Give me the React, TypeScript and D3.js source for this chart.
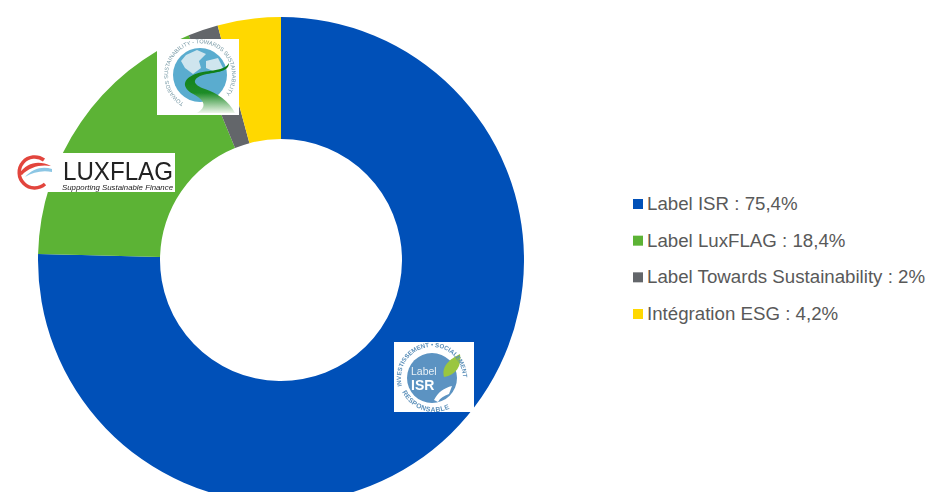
import React from "react";
import * as d3 from "d3";

const labels = ["Label ISR", "Label LuxFLAG", "Label Towards Sustainability", "Intégration ESG"];
const shares = [75.4, 18.4, 2, 4.2];
const shareLabels = ["75,4%", "18,4%", "2%", "4,2%"];
const colors = ["#0050b8", "#5cb335", "#63666a", "#ffd800"];

const W = 939;
const H = 492;
const cx = 281;
const cy = 260;
const outer = 243;
const inner = 121;

const pie = d3.pie<number>().sort(null).value((d) => d);
const arc = d3.arc<d3.PieArcDatum<number>>().innerRadius(inner).outerRadius(outer);

const legendY = d3.scalePoint<string>().domain(labels).range([204, 314]);

// the three logos are images in the original, redrawn here roughly
const TowardsLogo = () => (
  <g transform="translate(157,39)" filter="url(#logo-soft)">
    <rect width={82} height={76} fill="#fff" />
    <defs>
      <path id="towards-ring" d="M27,64 A32,32 0 1,1 59,64" />
      <linearGradient id="road-fade" x1="0" y1="0" x2="0" y2="1">
        <stop offset="0" stopColor="#0b7a14" />
        <stop offset="0.6" stopColor="#1f8c28" />
        <stop offset="1" stopColor="#eef6ea" />
      </linearGradient>
    </defs>
    <circle cx={43} cy={36} r={27} fill="#5aaccf" />
    <path d="M29,16 l11,-5 l9,4 l-7,7 l2,7 l-8,6 l-8,-6 l-4,-7z" fill="#cfe5ee" />
    <path d="M49,22 l12,-3 l5,10 l-8,4 l-9,-4z" fill="#cfe5ee" />
    <path
      d="M72,24 C72,34 56,33 46,36 C34,40 36,46 48,50 C60,54 72,62 78,74 L40,74 C50,68 48,62 38,56 C26,50 24,42 36,36 C48,30 66,34 72,24 Z"
      fill="url(#road-fade)"
    />
    <text fontFamily="Liberation Sans" fontSize={5.6} fill="#7597a3">
      <textPath href="#towards-ring">TOWARDS SUSTAINABILITY - TOWARDS SUSTAINABILITY</textPath>
    </text>
  </g>
);

const LuxflagLogo = () => (
  <g transform="translate(17,153)" filter="url(#logo-soft)">
    <rect x={30} width={128} height={39} fill="#fff" />
    <path d="M27,7 A15.5,15.5 0 1,0 28,31" fill="none" stroke="#e2453c" strokeWidth={3.5} />
    <path d="M2,21 C10,9 22,7 34,13 C24,11 12,14 5,22 Z" fill="#e2453c" />
    <path d="M8,24 C16,15 26,13 35,16 L35,19 C26,17 16,19 8,24 Z" fill="#8cc6e4" />
    <text x={46} y={27} fontFamily="Liberation Sans" fontSize={25} fill="#222" textLength={110} lengthAdjust="spacingAndGlyphs">
      LUXFLAG
    </text>
    <text x={45} y={37} fontFamily="Liberation Sans" fontSize={8} fontStyle="italic" fill="#222" textLength={111} lengthAdjust="spacingAndGlyphs">
      Supporting Sustainable Finance
    </text>
  </g>
);

const IsrLogo = () => (
  <g transform="translate(394,342)" filter="url(#logo-soft)">
    <rect width={80} height={70} fill="#fff" />
    <defs>
      <path id="isr-top" d="M8,44 A31,31 0 1,1 66,49" />
      <path id="isr-low" d="M8,50 A36,36 0 0,0 60,64" />
    </defs>
    <circle cx={38} cy={36} r={25} fill="#5b93c2" />
    <text x={17} y={33} fontFamily="Liberation Sans" fontSize={10.5} fill="#e8f0f6">Label</text>
    <text x={17} y={48} fontFamily="Liberation Sans" fontSize={14} fontWeight={700} fill="#fff">ISR</text>
    <path d="M50,35 C47,24 56,17 66,12 C68,24 62,33 50,35 Z" fill="#9ac63f" />
    <path d="M40,58 C44,50 50,46 58,44 L55,52 C50,54 46,56 44,60 Z" fill="#fff" />
    <text fontFamily="Liberation Sans" fontSize={6.2} fontWeight={700} fill="#5b8fb9">
      <textPath href="#isr-top">INVESTISSEMENT • SOCIALEMENT</textPath>
    </text>
    <text fontFamily="Liberation Sans" fontSize={6.8} fontWeight={700} fill="#5b8fb9" letterSpacing={0.4}>
      <textPath href="#isr-low">RESPONSABLE</textPath>
    </text>
  </g>
);

export default function App() {
  const slices = pie(shares);
  return (
    <svg
      width={W}
      height={H}
      viewBox={`0 0 ${W} ${H}`}
      style={{ position: "absolute", left: 0, top: 0, background: "#fff" }}
    >
      <defs>
        <filter id="logo-soft" x="-5%" y="-5%" width="110%" height="110%">
          <feGaussianBlur stdDeviation={0.35} />
        </filter>
      </defs>
      <g transform={`translate(${cx},${cy})`}>
        {slices.map((s, i) => (
          <path key={labels[i]} d={arc(s) as string} fill={colors[i]} />
        ))}
      </g>
      <TowardsLogo />
      <LuxflagLogo />
      <IsrLogo />
      <g fontFamily="Liberation Sans, Arial, sans-serif" fontSize={18.7} fill="#595959">
        {labels.map((d, i) => (
          <g key={d} transform={`translate(633,${legendY(d)})`}>
            <rect x={0} y={-5} width={10} height={10} fill={colors[i]} />
            <text x={14} y={6}>{`${d} : ${shareLabels[i]}`}</text>
          </g>
        ))}
      </g>
    </svg>
  );
}
